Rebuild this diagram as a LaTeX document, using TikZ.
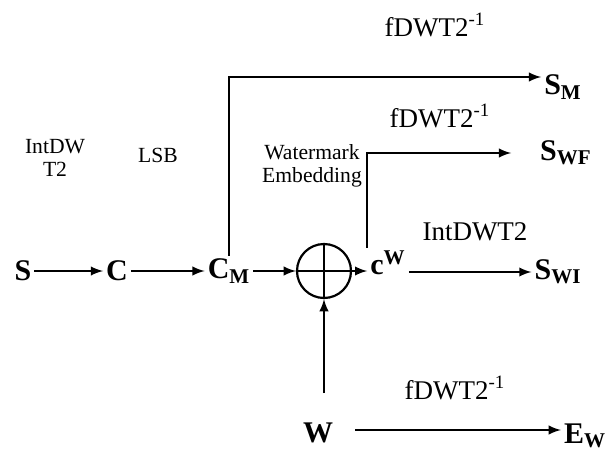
\documentclass[tikz,border=0pt]{standalone}
\usepackage{fontspec}
\setmainfont{Liberation Serif}
\usetikzlibrary{shapes,arrows}

\begin{document}
\begin{tikzpicture}[x=0.5pt, y=-0.5pt, line width=1.1pt]
    \tikzstyle{sig} = [font=\fontsize{15}{17}\selectfont\bfseries, inner sep=1pt]
    \tikzstyle{op} = [font=\fontsize{13.5}{15}\selectfont, inner sep=0pt]
    \tikzstyle{lbl} = [font=\fontsize{10.8}{11.5}\selectfont, align=center, inner sep=0pt]
    \tikzstyle{adder} = [circle, draw, minimum size=27pt, inner sep=0pt]

    \useasboundingbox (0,0) rectangle (611,450);

    \node [sig] (s) at (23,271) {S};
    \node [sig] (c) at (117,271) {C};
    \node [sig] (cm) at (229,271) {C\textsubscript{M}};
    \node [adder] (sum) at (324,271) {};
    \node [sig] (cw) at (388,263) {c\textsuperscript{W}};
    \node [sig] (swi) at (558,272) {S\textsubscript{WI}};
    \node [sig] (swf) at (566,153) {S\textsubscript{WF}};
    \node [sig] (sm) at (563,87) {S\textsubscript{M}};
    \node [sig] (w) at (318,433) {W};
    \node [sig] (ew) at (585,436) {E\textsubscript{W}};
    \coordinate (wtop) at (324,393);
    \coordinate (wout) at (355,430);

    \node [lbl] (intdw) at (55,158) {IntDW\\T2};
    \node [lbl] (lsb) at (158,155) {LSB};
    \node [lbl] (embed) at (312,166) {Watermark\\Embedding};
    \node [op] (inv1) at (435,25) {fDWT2\textsuperscript{-1}};
    \node [op] (inv2) at (440,116) {fDWT2\textsuperscript{-1}};
    \node [op] (intdwt) at (475,232) {IntDWT2};
    \node [op] (inv3) at (455,388) {fDWT2\textsuperscript{-1}};

    \path [draw, -latex] (s) -- (c);
    \path [draw, -latex] (c) -- (cm);
    \path [draw, -latex] (cm) -- (sum);
    \path [draw] (sum.north) -- (sum.south);
    \path [draw, -latex] (sum.west) -- (sum.west -| cw.west);
    \path [draw, -latex] (cw.east |- swi.west) -- (swi.west);
    \path [draw, -latex] (cw.north west) |- ([xshift=-13pt]swf.west);
    \path [draw, -latex] (cm.north) |- ([yshift=5pt]sm.west);
    \path [draw, -latex] (wtop) -- (sum.south);
    \path [draw, -latex] (wout) -- (wout -| ew.west);
\end{tikzpicture}
\end{document}
